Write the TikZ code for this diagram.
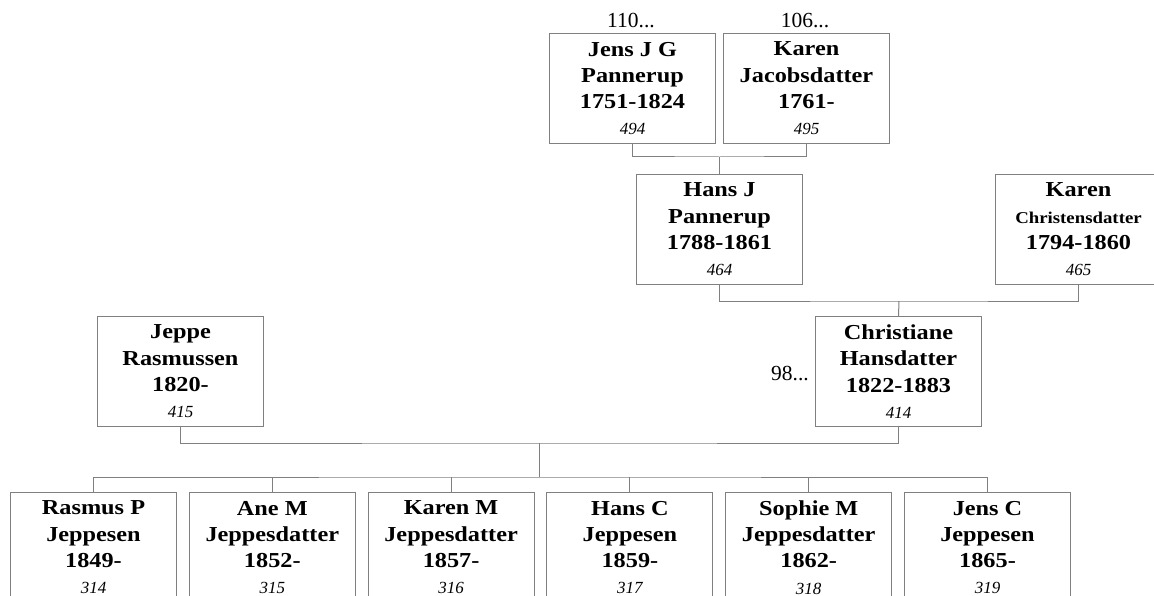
\documentclass[tikz,border=0pt]{standalone}
\usepackage{fontspec}
\setmainfont{Liberation Serif}
\newfontface\bwide[FakeStretch=1.14]{Liberation Serif Bold}
\usetikzlibrary{calc}
\definecolor{linegray}{RGB}{128,128,128}
\newcommand\pnumtxt[1]{{\rmfamily\mdseries\itshape\fontsize{17}{26.3}\selectfont #1}}
\newcommand\smallname[1]{{\fontsize{16.5}{26.3}\selectfont #1}}
\begin{document}
\begin{tikzpicture}[x=1pt,y=-1pt,
  person/.style={draw=linegray, line width=1pt, minimum width=166pt, minimum height=110pt,
    inner sep=0pt, align=center, anchor=north west,
    font=\bwide\fontsize{21.3}{26.3}\selectfont},
  conn/.style={draw=linegray, line width=1pt},
  note/.style={font=\fontsize{21.5}{24}\selectfont, inner sep=0pt}]
\useasboundingbox (0,0) rectangle (1154,596);
% generation 1
\node[person] (jens) at (549,33) {Jens J G\\Pannerup\\1751-1824\\\pnumtxt{494}};
\node[person] (karenj) at (723,33) {Karen\\Jacobsdatter\\1761-\\\pnumtxt{495}};
\node[note, anchor=base] (n110) at (631,28) {110...};
\node[note, anchor=base] (n106) at (805,28) {106...};
% generation 2
\node[person] (hans) at (636,174) {Hans J\\Pannerup\\1788-1861\\\pnumtxt{464}};
\node[person] (karenc) at (995,174) {Karen\\\smallname{Christensdatter}\\1794-1860\\\pnumtxt{465}};
% generation 3
\node[person] (jeppe) at (97,316) {Jeppe\\Rasmussen\\1820-\\\pnumtxt{415}};
\node[person] (chris) at (815,316) {Christiane\\Hansdatter\\1822-1883\\\pnumtxt{414}};
\node[note, anchor=base east] (n98) at (809,380) {98...};
% children
\node[person] (c1) at (10,492) {Rasmus P\\Jeppesen\\1849-\\\pnumtxt{314}};
\node[person] (c2) at (188.8,492) {Ane M\\Jeppesdatter\\1852-\\\pnumtxt{315}};
\node[person] (c3) at (367.6,492) {Karen M\\Jeppesdatter\\1857-\\\pnumtxt{316}};
\node[person] (c4) at (546.4,492) {Hans C\\Jeppesen\\1859-\\\pnumtxt{317}};
\node[person] (c5) at (725.2,492) {Sophie M\\Jeppesdatter\\1862-\\\pnumtxt{318}};
\node[person] (c6) at (904,492) {Jens C\\Jeppesen\\1865-\\\pnumtxt{319}};
% connectors
\coordinate (m1) at ($(jens.south)!0.5!(karenj.south)+(0,13)$);
\draw[conn] (jens.south) |- (m1) -| (karenj.south);
\draw[conn] (m1) -- (hans.north);
\coordinate (m2) at ($(hans.south)!0.5!(karenc.south)+(0,16)$);
\draw[conn] (hans.south) |- (m2) -| (karenc.south);
\draw[conn] (m2) -- (chris.north);
\coordinate (m3) at ($(jeppe.south)!0.5!(chris.south)+(0,16)$);
\draw[conn] (jeppe.south) |- (m3) -| (chris.south);
\coordinate (m4) at ($(m3)+(0,34)$);
\draw[conn] (m3) -- (m4);
\draw[conn] (c1.north) |- (m4) -| (c6.north);
\foreach \c in {c2,c3,c4,c5}{\draw[conn] (\c.north) -- (\c.north |- m4);}
\end{tikzpicture}
\end{document}
